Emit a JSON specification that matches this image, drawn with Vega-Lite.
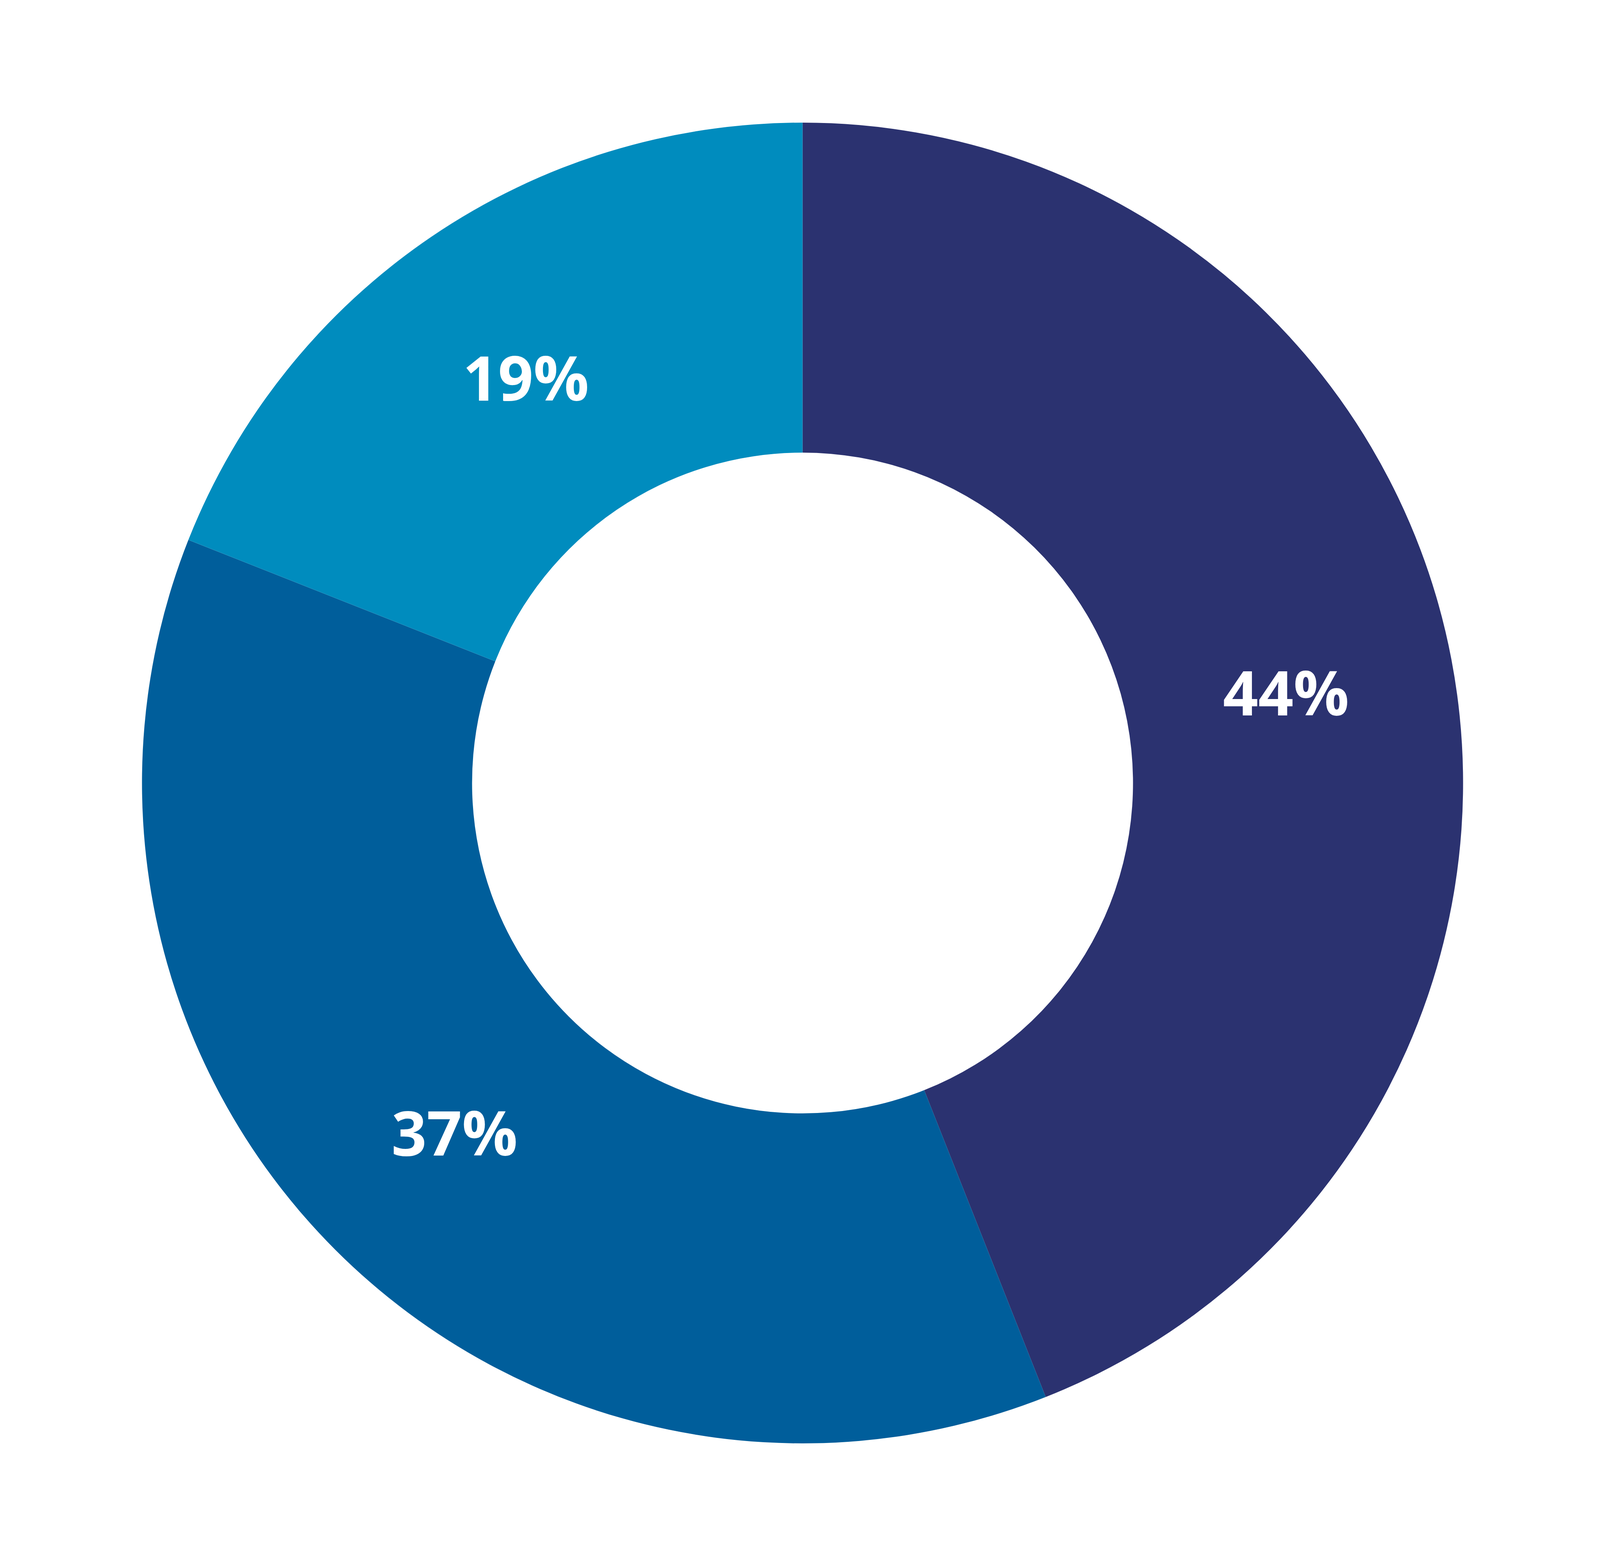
{
  "$schema": "https://vega.github.io/schema/vega-lite/v6.json",
  "width": 4109,
  "height": 4010,
  "autosize": {"type": "fit", "contains": "padding"},
  "padding": 0,
  "background": "white",
  "data": {
    "values": [
      {"group": "A", "share": 44, "label": "44%"},
      {"group": "B", "share": 37, "label": "37%"},
      {"group": "C", "share": 19, "label": "19%"}
    ]
  },
  "encoding": {
    "theta": {"field": "share", "type": "quantitative", "stack": true},
    "order": {"field": "group", "type": "nominal"}
  },
  "layer": [
    {
      "mark": {"type": "arc", "outerRadius": 1691, "innerRadius": 846},
      "encoding": {
        "color": {
          "field": "group",
          "type": "nominal",
          "scale": {"domain": ["A", "B", "C"], "range": ["#2b3270", "#005e9b", "#008cbe"]},
          "legend": null
        }
      }
    },
    {
      "mark": {
        "type": "text",
        "radius": 1260,
        "font": "Open Sans",
        "fontWeight": "bold",
        "fontSize": 158,
        "color": "white",
        "align": "center",
        "baseline": "middle",
        "dy": 16
      },
      "encoding": {
        "text": {"field": "label"}
      }
    }
  ],
  "config": {"view": {"stroke": null}}
}
